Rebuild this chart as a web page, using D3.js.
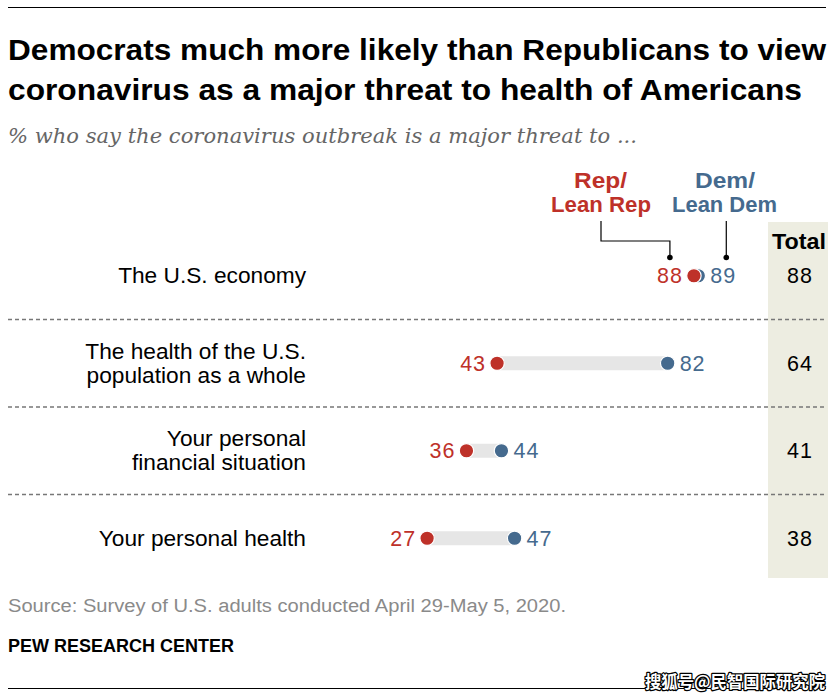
<!DOCTYPE html>
<html><head><meta charset="utf-8">
<script src="https://cdn.jsdelivr.net/npm/d3@7"></script>
<style>body{margin:0;background:#fff}</style>
</head><body>
<script>
const categories = ["The U.S. economy", "The health of the U.S.|population as a whole", "Your personal|financial situation", "Your personal health"];
const repValues = [88, 43, 36, 27];
const demValues = [89, 82, 44, 47];
const totalValues = [88, 64, 41, 38];

const W = 840, H = 698;
const RED = "#BE3129", BLUE = "#456A8E";
const svg = d3.select("body").append("svg").attr("width", W).attr("height", H);
svg.append("rect").attr("width", W).attr("height", H).attr("fill", "#fff");

function fit(t, w) {
  const n = t.node();
  const len = n.getComputedTextLength();
  if (Math.abs(len - w) > 1) t.attr("textLength", w).attr("lengthAdjust", "spacingAndGlyphs");
  return t;
}

// top and bottom rules
svg.append("line").attr("x1", 8).attr("x2", 826).attr("y1", 7.5).attr("y2", 7.5).attr("stroke", "#000").attr("stroke-width", 1);
svg.append("line").attr("x1", 8).attr("x2", 826).attr("y1", 688.5).attr("y2", 688.5).attr("stroke", "#000").attr("stroke-width", 1);

// title
const tf = "'Liberation Sans', Arial, sans-serif";
fit(svg.append("text").attr("x", 8).attr("y", 60).attr("font-family", tf).attr("font-weight", "bold").attr("font-size", 29).attr("fill", "#000")
  .text("Democrats much more likely than Republicans to view"), 818);
fit(svg.append("text").attr("x", 8).attr("y", 100).attr("font-family", tf).attr("font-weight", "bold").attr("font-size", 29).attr("fill", "#000")
  .text("coronavirus as a major threat to health of Americans"), 794);
fit(svg.append("text").attr("x", 8).attr("y", 143).attr("font-family", "'DejaVu Serif', Georgia, serif").attr("font-style", "italic").attr("font-size", 21).attr("fill", "#666")
  .text("% who say the coronavirus outbreak is a major threat to ..."), 629);

// scales
const x = d3.scaleLinear().domain([0, 100]).range([309, 746.4]);
const y = d3.scaleBand().domain(categories).range([232, 582]);
const rows = categories.map((c, i) => ({c, rep: repValues[i], dem: demValues[i], tot: totalValues[i]}));

// total column background
svg.append("rect").attr("x", 768).attr("y", 222).attr("width", 60).attr("height", 356).attr("fill", "#EDEDE1");
fit(svg.append("text").attr("x", 772).attr("y", 249).attr("font-family", tf).attr("font-weight", "bold").attr("font-size", 21.5).attr("fill", "#000").text("Total"), 54);

// dividers
svg.append("g").selectAll("line").data(categories.slice(1)).join("line")
  .attr("x1", 8).attr("x2", 826)
  .attr("y1", d => y(d)).attr("y2", d => y(d))
  .attr("stroke", "#777").attr("stroke-width", 1.5).attr("stroke-dasharray", "4,3");

const cy = d => y(d.c) + y.bandwidth() / 2;

// category labels
const lab = svg.append("g").selectAll("text").data(rows).join("text")
  .attr("font-family", tf).attr("font-size", 21.3).attr("fill", "#000");
lab.each(function(d) {
  const parts = d.c.split("|");
  const g = d3.select(this);
  const y0 = cy(d) + 7.5 - (parts.length - 1) * 12;
  parts.forEach((p, k) => {
    const ts = g.append("tspan").attr("x", 306).attr("y", y0 + k * 24).attr("text-anchor", "end").text(p);
    const w = ts.node().getComputedTextLength() * 1.065;
    ts.attr("text-anchor", "start").attr("x", 306 - w).attr("textLength", w).attr("lengthAdjust", "spacingAndGlyphs");
  });
});

// bars
svg.append("g").selectAll("rect").data(rows).join("rect")
  .attr("x", d => x(d.rep)).attr("width", d => x(d.dem) - x(d.rep))
  .attr("y", d => cy(d) - 7).attr("height", 14).attr("fill", "#E6E6E6");

// dots
svg.append("g").selectAll("circle").data(rows).join("circle")
  .attr("cx", d => x(d.dem)).attr("cy", cy).attr("r", 7.2).attr("fill", BLUE).attr("stroke", "#fff").attr("stroke-width", 1.2);
svg.append("g").selectAll("circle").data(rows).join("circle")
  .attr("cx", d => x(d.rep)).attr("cy", cy).attr("r", 7.2).attr("fill", RED).attr("stroke", "#fff").attr("stroke-width", 1.2);

// value labels
const numStyle = s => s.attr("font-family", tf).attr("font-size", 21.5).attr("letter-spacing", 1);
numStyle(svg.append("g").selectAll("text").data(rows).join("text")
  .attr("x", d => x(d.rep) - 11).attr("y", d => cy(d) + 7.5).attr("text-anchor", "end")
  .attr("fill", RED).text(d => d.rep));
numStyle(svg.append("g").selectAll("text").data(rows).join("text")
  .attr("x", d => x(d.dem) + 12).attr("y", d => cy(d) + 7.5).attr("text-anchor", "start")
  .attr("fill", BLUE).text(d => d.dem));
numStyle(svg.append("g").selectAll("text").data(rows).join("text")
  .attr("x", 800).attr("y", d => cy(d) + 7.5).attr("text-anchor", "middle")
  .attr("fill", "#000").text(d => d.tot));

// legend
const r0 = rows[0];
const lg = svg.append("g").attr("font-family", tf).attr("font-weight", "bold").attr("font-size", 21.5);
fit(lg.append("text").attr("x", 574).attr("y", 188).attr("fill", RED).text("Rep/"), 53);
fit(lg.append("text").attr("x", 551).attr("y", 212).attr("fill", RED).text("Lean Rep"), 100);
fit(lg.append("text").attr("x", 695).attr("y", 188).attr("fill", BLUE).text("Dem/"), 60);
fit(lg.append("text").attr("x", 672).attr("y", 212).attr("fill", BLUE).text("Lean Dem"), 105);
const xr = x(r0.rep) - 24, xd = x(r0.dem) + 28;
svg.append("path").attr("d", `M601,221V241H${xr}V257`).attr("fill", "none").attr("stroke", "#000").attr("stroke-width", 1.2);
svg.append("path").attr("d", `M${xd},221V257`).attr("fill", "none").attr("stroke", "#000").attr("stroke-width", 1.2);
svg.append("circle").attr("cx", xr).attr("cy", 257.5).attr("r", 2.8).attr("fill", "#000");
svg.append("circle").attr("cx", xd).attr("cy", 257.5).attr("r", 2.8).attr("fill", "#000");

// footer
fit(svg.append("text").attr("x", 8).attr("y", 612).attr("font-family", "'Liberation Sans Narrow', 'Liberation Sans', Arial, sans-serif").attr("font-size", 18).attr("fill", "#8a8a8a")
  .text("Source: Survey of U.S. adults conducted April 29-May 5, 2020."), 558);
fit(svg.append("text").attr("x", 8).attr("y", 652).attr("font-family", "'Liberation Sans Narrow', 'Liberation Sans', Arial, sans-serif").attr("font-weight", "bold").attr("font-size", 18).attr("fill", "#000")
  .text("PEW RESEARCH CENTER"), 226);

// watermark
fit(svg.append("text").attr("x", 645).attr("y", 688).attr("font-family", "'Noto Sans CJK SC', sans-serif").attr("font-weight", "bold").attr("font-size", 17)
  .attr("fill", "#fff").attr("stroke", "#000").attr("stroke-width", 2.5).attr("paint-order", "stroke").attr("stroke-linejoin", "round")
  .text("搜狐号@民智国际研究院"), 180);
</script>
</body></html>
